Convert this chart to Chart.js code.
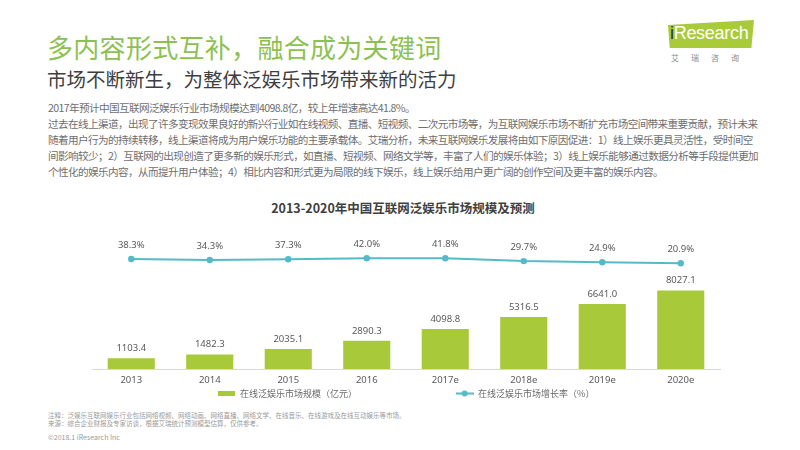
<!DOCTYPE html>
<html>
<head>
<meta charset="utf-8">
<script src="https://cdn.jsdelivr.net/npm/chart.js@4/dist/chart.umd.min.js"></script>
<style>
  html, body { margin:0; padding:0; background:#fff; }
  body { width:800px; height:450px; position:relative; overflow:hidden; font-family:"Noto Sans CJK SC","Noto Sans",sans-serif; }
  .abs { position:absolute; white-space:nowrap; }
  #title { left:47px; top:28px; font-size:26px; color:#8cc152; letter-spacing:0.3px; }
  #subtitle { left:47px; top:64px; font-size:19.5px; color:#3f3f3f; }
  #para { left:48px; top:100px; font-size:10.6px; line-height:16px; color:#6e6e6e; letter-spacing:-0.6px; }
  #ctitle { left:0; width:806px; top:198px; text-align:center; font-size:12.5px; font-weight:bold; color:#404040; }
  #logo { left:668px; top:20px; width:86px; height:28px; background:#a9cb3a; clip-path:polygon(0 18%, 100% 0, 97% 100%, 2% 100%); }
  #logotext { left:670px; top:23px; font-family:"Liberation Sans",Arial,sans-serif; font-size:18px; color:#fff; letter-spacing:-0.3px; }
  #logotext span { color:#1f3556; }
  #logocn { left:671px; top:52px; font-size:8px; color:#8a8a8a; letter-spacing:12px; }
  #note { left:48px; top:411px; font-size:6.5px; line-height:8px; color:#9a9a9a; }
  #copy { left:48px; top:432px; font-size:7px; color:#9a9a9a; }
  #wrap { position:absolute; left:0; top:225px; width:800px; height:183px; }
</style>
</head>
<body>
<div id="title" class="abs">多内容形式互补，融合成为关键词</div>
<div id="subtitle" class="abs">市场不断新生，为整体泛娱乐市场带来新的活力</div>
<div id="logo" class="abs"></div>
<div id="logotext" class="abs"><span>i</span>Research</div>
<div id="logocn" class="abs">艾瑞咨询</div>
<div id="para" class="abs">
<div>2017年预计中国互联网泛娱乐行业市场规模达到4098.8亿，较上年增速高达41.8%。</div>
<div>过去在线上渠道，出现了许多变现效果良好的新兴行业如在线视频、直播、短视频、二次元市场等，为互联网娱乐市场不断扩充市场空间带来重要贡献，预计未来</div>
<div>随着用户行为的持续转移，线上渠道将成为用户娱乐功能的主要承载体。艾瑞分析，未来互联网娱乐发展将由如下原因促进：1）线上娱乐更具灵活性，受时间空</div>
<div>间影响较少；2）互联网的出现创造了更多新的娱乐形式，如直播、短视频、网络文学等，丰富了人们的娱乐体验；3）线上娱乐能够通过数据分析等手段提供更加</div>
<div>个性化的娱乐内容，从而提升用户体验；4）相比内容和形式更为局限的线下娱乐，线上娱乐给用户更广阔的创作空间及更丰富的娱乐内容。</div>
</div>
<div id="ctitle" class="abs">2013-2020年中国互联网泛娱乐市场规模及预测</div>
<div id="wrap"><canvas id="c"></canvas></div>
<div id="note" class="abs">
<div>注释：泛娱乐互联网娱乐行业包括网络视频、网络动画、网络直播、网络文学、在线音乐、在线游戏及在线互动娱乐等市场。</div>
<div>来源：综合企业财报及专家访谈，根据艾瑞统计预测模型估算，仅供参考。</div>
</div>
<div id="copy" class="abs">©2018.1 iResearch Inc</div>
<script>
const years = ['2013','2014','2015','2016','2017e','2018e','2019e','2020e'];
const marketSize = [1103.4, 1482.3, 2035.1, 2890.3, 4098.8, 5316.5, 6641.0, 8027.1];
const growthRate = [38.3, 34.3, 37.3, 42.0, 41.8, 29.7, 24.9, 20.9];
const seriesNames = ['在线泛娱乐市场规模（亿元）', '在线泛娱乐市场增长率（%）'];

const BAR = '#a8c93a';
const LINE = '#55bac7';

function marker(kind) {
  const c = document.createElement('canvas');
  if (kind === 'bar') {
    c.width = 17; c.height = 5;
    const x = c.getContext('2d');
    x.fillStyle = BAR; x.fillRect(0, 0, 17, 5);
  } else {
    c.width = 18; c.height = 7;
    const x = c.getContext('2d');
    x.strokeStyle = LINE; x.lineWidth = 2;
    x.beginPath(); x.moveTo(0, 3.5); x.lineTo(18, 3.5); x.stroke();
    x.fillStyle = LINE; x.beginPath(); x.arc(9, 3.5, 3, 0, Math.PI * 2); x.fill();
  }
  return c;
}
const markers = [marker('bar'), marker('line')];

const valueLabels = {
  id: 'valueLabels',
  afterDatasetsDraw(chart) {
    const ctx = chart.ctx;
    ctx.save();
    ctx.font = '9.5px "Noto Sans", "Open Sans", sans-serif';
    ctx.fillStyle = '#5a5a5a';
    ctx.textAlign = 'center';
    ctx.textBaseline = 'bottom';
    chart.getDatasetMeta(0).data.forEach((el, i) => {
      ctx.fillText(marketSize[i].toFixed(1), el.x, el.y - 5);
    });
    chart.getDatasetMeta(1).data.forEach((el, i) => {
      ctx.fillText(growthRate[i].toFixed(1) + '%', el.x, el.y - 9);
    });
    ctx.restore();
  }
};

new Chart(document.getElementById('c'), {
  data: {
    labels: years,
    datasets: [
      { type: 'bar', label: seriesNames[0], data: marketSize, backgroundColor: BAR,
        yAxisID: 'y', categoryPercentage: 1, barPercentage: 0.6, order: 2 },
      { type: 'line', label: seriesNames[1], data: growthRate, borderColor: LINE, backgroundColor: LINE,
        borderWidth: 2, pointRadius: 3.2, pointBackgroundColor: LINE, pointBorderWidth: 0,
        yAxisID: 'y2', tension: 0, order: 1 }
    ]
  },
  options: {
    responsive: true,
    maintainAspectRatio: false,
    animation: false,
    layout: { padding: { left: 92, right: 80, top: 5, bottom: 0 } },
    scales: {
      x: {
        grid: { display: false, drawTicks: false },
        border: { display: true, color: '#d9d9d9', width: 1 },
        ticks: { color: '#5a5a5a', font: { size: 9.5, family: '"Noto Sans", "Open Sans", sans-serif' }, padding: 6 },
        afterFit(scale) { scale.height = 16; }
      },
      y: { display: false, min: 0, max: 14200 },
      y2: { display: false, min: -422, max: 160 }
    },
    plugins: {
      tooltip: { enabled: false },
      legend: {
        position: 'bottom',
        labels: {
          usePointStyle: true,
          pointStyleWidth: 18,
          boxHeight: 7,
          padding: 4,
          color: '#6a6a6a',
          font: { size: 9, family: '"Noto Sans CJK SC", sans-serif' },
          sort: (a, b) => a.datasetIndex - b.datasetIndex,
          generateLabels(chart) {
            const items = Chart.defaults.plugins.legend.labels.generateLabels(chart);
            items.forEach((it) => {
              const i = it.datasetIndex;
              it.pointStyle = markers[i];
              it.text = seriesNames[i] + (i === 0 ? '\u3000'.repeat(11) : '');
            });
            return items;
          }
        }
      }
    }
  },
  plugins: [valueLabels]
});
</script>
</body>
</html>
